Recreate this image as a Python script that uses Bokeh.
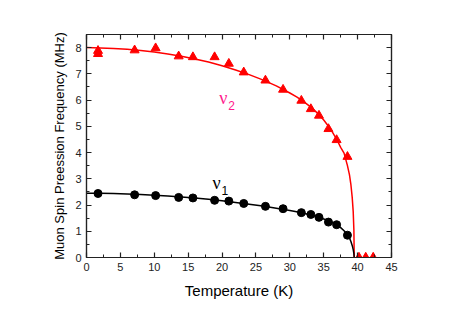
from bokeh.plotting import figure
from bokeh.models import LinearAxis, SingleIntervalTicker, Range1d, CustomJSTickFormatter
from bokeh.core.properties import value
from bokeh.embed import file_html
from bokeh.resources import INLINE

# ---- data ----
temp_nu2 = [1.7, 1.7, 7.1, 10.2, 13.6, 15.7, 18.9, 21.0, 23.2, 26.4, 29.0, 31.7, 33.1, 34.3, 35.7, 36.9, 38.5, 40.2, 41.2, 42.3]
freq_nu2 = [7.88, 7.76, 7.90, 7.98, 7.67, 7.64, 7.64, 7.39, 7.06, 6.75, 6.40, 5.98, 5.66, 5.41, 4.90, 4.48, 3.84, 0.0, 0.0, 0.0]

temp_nu1 = [1.7, 7.1, 10.2, 13.6, 15.7, 18.9, 21.0, 23.2, 26.4, 29.0, 31.7, 33.1, 34.3, 35.7, 36.9, 38.5]
freq_nu1 = [2.44, 2.39, 2.36, 2.29, 2.27, 2.18, 2.15, 2.06, 1.95, 1.86, 1.71, 1.64, 1.53, 1.35, 1.25, 0.85]

fit_temp = [0, 2, 4, 6, 8, 10, 12, 14, 16, 18, 20, 22, 24, 26, 28, 30, 31, 32, 33, 34, 35, 36, 37, 37.5, 38, 38.5, 38.8, 39.0, 39.2, 39.35, 39.45, 39.5]
fit_nu2 = [8.00, 7.99, 7.97, 7.94, 7.89, 7.83, 7.76, 7.67, 7.57, 7.45, 7.31, 7.15, 6.97, 6.77, 6.54, 6.27, 6.12, 5.95, 5.75, 5.52, 5.24, 4.90, 4.46, 4.20, 3.98, 3.50, 3.15, 2.80, 2.30, 1.75, 1.05, 0.0]
fit_nu1 = [2.45, 2.445, 2.435, 2.42, 2.40, 2.375, 2.345, 2.31, 2.27, 2.22, 2.165, 2.10, 2.03, 1.96, 1.88, 1.79, 1.74, 1.69, 1.63, 1.56, 1.47, 1.37, 1.23, 1.14, 1.02, 0.86, 0.74, 0.62, 0.46, 0.30, 0.15, 0.0]

x_ticks_interval = 5
y_ticks_interval = 1

FONT = "Liberation Sans"
AX = "#222222"

p = figure(width=441, height=307, output_backend="svg", toolbar_location=None,
           x_range=Range1d(0, 45), y_range=Range1d(0, 8.5),
           x_axis_location=None, y_axis_location=None,
           min_border_left=86, min_border_right=50, min_border_top=34, min_border_bottom=50)
p.xgrid.visible = False
p.ygrid.visible = False
p.outline_line_color = AX
p.outline_line_width = 1.2
p.background_fill_color = "white"
p.border_fill_color = "white"

bottom_ax = LinearAxis(ticker=SingleIntervalTicker(interval=x_ticks_interval, num_minor_ticks=2),
                       axis_label="Temperature (K)")
left_ax = LinearAxis(ticker=SingleIntervalTicker(interval=y_ticks_interval, num_minor_ticks=2),
                     axis_label="Muon Spin Preession Frequency (MHz)")
top_ax = LinearAxis(ticker=SingleIntervalTicker(interval=x_ticks_interval, num_minor_ticks=2),
                    formatter=CustomJSTickFormatter(code="return ''"))
right_ax = LinearAxis(ticker=SingleIntervalTicker(interval=y_ticks_interval, num_minor_ticks=2),
                      formatter=CustomJSTickFormatter(code="return ''"))
p.add_layout(bottom_ax, "below")
p.add_layout(left_ax, "left")
p.add_layout(top_ax, "above")
p.add_layout(right_ax, "right")

for ax in [bottom_ax, left_ax, top_ax, right_ax]:
    ax.axis_line_color = AX
    ax.axis_line_width = 1.2
    ax.major_tick_line_color = AX
    ax.minor_tick_line_color = AX
    ax.major_tick_line_width = 1.2
    ax.minor_tick_line_width = 1.0
    ax.major_tick_in = 5
    ax.major_tick_out = 0
    ax.minor_tick_in = 3
    ax.minor_tick_out = 0
    ax.major_label_text_font = FONT
    ax.major_label_text_font_size = "11px"
    ax.major_label_text_color = AX
    ax.axis_label_text_font = FONT
    ax.axis_label_text_font_style = "normal"
    ax.axis_label_text_color = "black"

for ax in [top_ax, right_ax]:
    ax.major_label_standoff = 0

bottom_ax.axis_label_text_font_size = "15px"
bottom_ax.axis_label_standoff = 8
bottom_ax.major_label_standoff = 5
left_ax.axis_label_text_font_size = "13px"
left_ax.axis_label_standoff = 5
left_ax.major_label_standoff = 5

# fit lines
p.line(fit_temp, fit_nu2, line_color="#ff0000", line_width=1.5)
p.line(fit_temp, fit_nu1, line_color="black", line_width=1.5)

# data points
p.scatter(temp_nu2, freq_nu2, marker="triangle", size=9, fill_color="#ff0000", line_color="#ff0000")
p.scatter(temp_nu1, freq_nu1, marker="circle", size=8, fill_color="black", line_color="black")

# labels
p.text(x=[20.2], y=[6.09], text=["ν"], text_font=value("Liberation Serif"), text_font_size="18px",
       text_color="#ff1a8c", text_align="center", text_baseline="middle")
p.text(x=[21.4], y=[5.79], text=["2"], text_font=value(FONT), text_font_size="12px",
       text_color="#ff1a8c", text_align="center", text_baseline="middle")
p.text(x=[19.2], y=[2.84], text=["ν"], text_font=value("Liberation Serif"), text_font_size="18px",
       text_color="black", text_align="center", text_baseline="middle")
p.text(x=[20.4], y=[2.57], text=["1"], text_font=value(FONT), text_font_size="12px",
       text_color="black", text_align="center", text_baseline="middle")

open("out.html", "w").write(file_html(p, INLINE))
